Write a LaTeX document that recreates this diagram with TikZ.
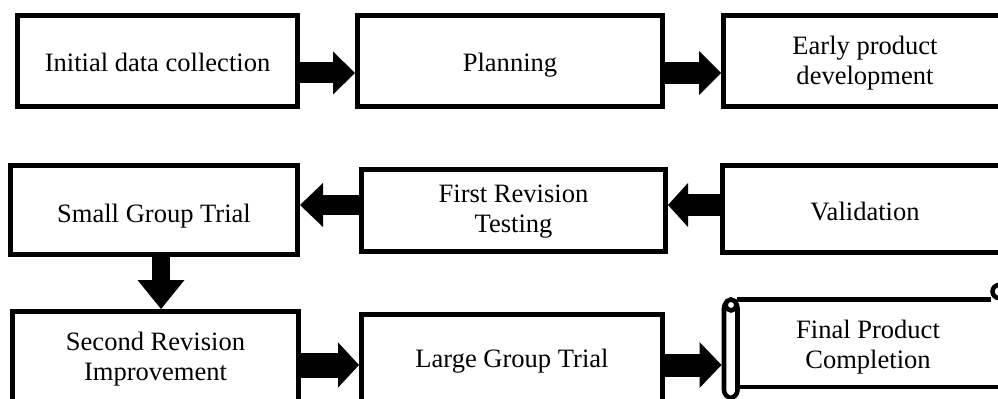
\documentclass[tikz,border=0pt]{standalone}
\usepackage{fontspec}
\setmainfont{Liberation Serif}
\usetikzlibrary{arrows.meta,calc}
\newcommand{\bxt}[2]{\raisebox{-#1}[\height][\depth]{\begin{tabular}{@{}c@{}}#2\end{tabular}}}
\tikzset{
  stepbox/.style={draw=black, line width=3.75pt, fill=white,
    font=\fontsize{19.9}{22.5}\selectfont, inner sep=0pt},
  blockarrow/.style n args={3}{line width=#1, line cap=butt,
    -{Triangle[length=#2,width=#3,line width=0pt]}},
  scrollline/.style={draw=black, line width=3.4pt},
}
\begin{document}
\begin{tikzpicture}[x=0.75pt,y=-0.75pt]
\clip (0,0) rectangle (998,399);
\fill[white] (0,0) rectangle (998,399);
% row levels
\coordinate (y1) at (0,73);
\coordinate (y2) at (0,205);
\coordinate (y3) at (0,365);
\coordinate (xd) at (161,0);
% boxes
\node[stepbox, minimum width=210pt, minimum height=68.25pt] (n1) at (157.5,61) {\bxt{3.75pt}{Initial data collection}};
\node[stepbox, minimum width=228.75pt, minimum height=68.25pt] (n2) at (510,61) {\bxt{3.75pt}{Planning}};
\node[stepbox, minimum width=212.25pt, minimum height=68.25pt] (n3) at (865,61) {\bxt{2.25pt}{Early product\\development}};
\node[stepbox, minimum width=215.25pt, minimum height=66.75pt] (n4) at (154,210) {\bxt{4.5pt}{Small Group Trial}};
\node[stepbox, minimum width=228pt, minimum height=61.5pt] (n5) at (513.5,210.5) {\bxt{0.5pt}{First Revision\\Testing}};
\node[stepbox, minimum width=213.75pt, minimum height=65.25pt] (n6) at (865,209) {\bxt{3.75pt}{Validation}};
\node[stepbox, minimum width=214.5pt, minimum height=71.25pt] (n7) at (155.5,359) {\bxt{0pt}{Second Revision\\Improvement}};
\node[stepbox, minimum width=225.75pt, minimum height=66pt] (n8) at (512,358) {\bxt{2.25pt}{Large Group Trial}};
% scroll shape
\draw[scrollline] (737,299.5) -- (991,299.5);
\draw[scrollline] (999,291.5) circle (6.5);
\draw[scrollline] (737,387) -- (1010,387);
\draw[scrollline, fill=white, rounded corners=6pt] (724,300) rectangle (737.5,398);
\draw[scrollline, fill=white] (731,305) circle (5.5);
\node[stepbox, draw=none, fill=none, outer sep=0pt, minimum width=219.75pt, minimum height=65.25pt] (n9) at (868,344) {\bxt{2.25pt}{Final Product\\Completion}};
% arrows
\draw[blockarrow={15.75pt}{16.5pt}{32.25pt}] (n1.east |- y1) -- (n2.west |- y1);
\draw[blockarrow={16.5pt}{16.5pt}{33pt}] (n2.east |- y1) -- (n3.west |- y1);
\draw[blockarrow={15pt}{17.25pt}{33pt}] (n5.west |- y2) -- (n4.east |- y2);
\draw[blockarrow={16.5pt}{15pt}{33pt}] (n6.west |- y2) -- (n5.east |- y2);
\draw[blockarrow={13.5pt}{21.75pt}{35.25pt}] (n4.south -| xd) -- (n7.north -| xd);
\draw[blockarrow={18.75pt}{15.75pt}{34pt}] (n7.east |- y3) -- (n8.west |- y3);
\draw[blockarrow={17.25pt}{16.5pt}{34.5pt}] (n8.east |- y3) -- (n9.west |- y3);
\end{tikzpicture}
\end{document}
